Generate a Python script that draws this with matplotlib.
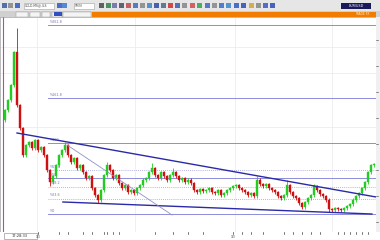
import matplotlib.pyplot as plt
from matplotlib.patches import Rectangle

# ===================
# DATA
# ===================
# closing prices, one per bar (open = previous close)
first_open = 1.2994
closes = [
    1.3004, 1.3014, 1.3029, 1.3062, 1.3009, 1.2986, 1.2959, 1.2969, 1.2972, 1.2966,
    1.2974, 1.2964, 1.2967, 1.2959, 1.2944, 1.2932, 1.2938, 1.2949, 1.2959, 1.2964,
    1.2969, 1.2959, 1.2952, 1.2956, 1.2946, 1.2949, 1.2942, 1.2936, 1.2938, 1.2926,
    1.2919, 1.2914, 1.2924, 1.2939, 1.2949, 1.2944, 1.2936, 1.2939, 1.2931, 1.2926,
    1.2929, 1.2922, 1.2924, 1.2921, 1.2926, 1.2929, 1.2934, 1.2936, 1.2942, 1.2946,
    1.2939, 1.2936, 1.2942, 1.2938, 1.2934, 1.2939, 1.2942, 1.2938, 1.2934, 1.2936,
    1.2932, 1.2934, 1.2931, 1.2924, 1.2922, 1.2925, 1.2923, 1.2924, 1.2926, 1.2922,
    1.2921, 1.2924, 1.2919, 1.2921, 1.2924, 1.2926, 1.2928, 1.2929, 1.2926, 1.2924,
    1.2922, 1.2919, 1.2921, 1.2918, 1.2934, 1.2930, 1.2928, 1.2930, 1.2926, 1.2924,
    1.2922, 1.2918, 1.2916, 1.2919, 1.2929, 1.2922, 1.2918, 1.2916, 1.2911, 1.2907,
    1.2912, 1.2916, 1.2919, 1.2928, 1.2924, 1.2920, 1.2918, 1.2914, 1.2905, 1.2904,
    1.2906, 1.2905, 1.2904, 1.2906, 1.2908, 1.2910, 1.2914, 1.2918, 1.2921, 1.2926,
    1.2932, 1.2942, 1.2949, 1.2950,
]
# bars whose wicks reach past the body
high_wicks = {4: 1.3086, 20: 1.2972, 34: 1.2952, 49: 1.2951, 56: 1.2946,
              84: 1.2938, 94: 1.2934, 103: 1.2930}
low_wicks = {15: 1.2928, 31: 1.2911, 108: 1.2902}

fib_levels = [1.2900, 1.2915, 1.2927, 1.2936, 1.2944, 1.2971, 1.3016, 1.3089]
fib_labels = ["%0", "%23.6", "%38.2", "%50", "%61.8", "%100", "%161.8", "%261.8"]
fib_dotted = [False, True, True, False, True, False, False, False]

# trend lines: (bar, price) endpoints
upper_trend = [(4.0, 1.2981), (123.7, 1.2917)]
lower_trend = [(19.3, 1.2912), (122.3, 1.2900)]
thin_line = [(20.7, 1.2969), (55.7, 1.2899)]

x_ticks = [11, 18, 21, 26, 29, 33, 34, 36, 38, 50, 56, 61, 66, 76, 79, 82, 86, 93, 96,
           99, 102, 105, 111, 113, 115, 117, 119, 121]
x_tick_labels = {11: "1/3", 76: "1/3"}

# ===================
# FIGURE
# ===================
W, H = 380, 240
fig = plt.figure(figsize=(3.8, 2.4), dpi=100)
fig.patch.set_facecolor("#d8d8d8")

# ---- toolbar
tb = fig.add_axes([0, 229 / H, 1, 11 / H])
tb.set_xlim(0, W)
tb.set_ylim(11, 0)
tb.axis("off")
tb.add_patch(Rectangle((0, 0), W, 11, facecolor="#e6e6e6", edgecolor="none"))
icons = [(2, "#3050a0"), (8, "#808080"), (15, "#2050c0"), (57, "#2050c0"),
         (62, "#3070d0"), (99, "#404040"), (106, "#208040"), (112, "#6060a0"),
         (119, "#404060"), (126, "#c04040"), (133, "#3060c0"), (140, "#808080"),
         (147, "#3080c0"), (154, "#2040a0"), (161, "#406080"), (168, "#d02020"),
         (175, "#3050b0"), (182, "#808080"), (190, "#d04040"), (197, "#20a040"),
         (205, "#3060c0"), (212, "#808080"), (219, "#3060d0"), (226, "#3080d0"),
         (234, "#2050c0"), (241, "#2040b0"), (249, "#d0a020"), (256, "#808080"),
         (263, "#3050c0"), (270, "#2040b0")]
for ix, col in icons:
    tb.add_patch(Rectangle((ix, 3), 4.5, 5, facecolor=col, edgecolor="none", alpha=0.8))
tb.add_patch(Rectangle((24, 2.5), 30, 6, facecolor="white", edgecolor="#a0a0a0", lw=0.4))
tb.text(25, 5.6, "GOLD.MS@.ILS", fontsize=2.2, va="center", color="#404040")
tb.add_patch(Rectangle((74, 2.5), 20, 6, facecolor="white", edgecolor="#a0a0a0", lw=0.4))
tb.text(75, 5.6, "5MIN", fontsize=2.2, va="center", color="#404040")
tb.add_patch(Rectangle((341, 2.5), 30, 6, facecolor="#1a1a5a", edgecolor="none"))
tb.text(356, 5.6, "EUR/USD", fontsize=2.4, va="center", ha="center", color="white")

# ---- tab bar
tab = fig.add_axes([0, 223 / H, 1, 6 / H])
tab.set_xlim(0, W)
tab.set_ylim(6, 0)
tab.axis("off")
tab.add_patch(Rectangle((0, 0), W, 6, facecolor="#d0d0d0", edgecolor="none"))
for tx, tw in [(16, 12), (30, 10), (42, 8), (52, 10), (63, 28)]:
    tab.add_patch(Rectangle((tx, 0.8), tw, 5, facecolor="#f4f4f4", edgecolor="#909090", lw=0.3))
tab.add_patch(Rectangle((54, 1.2), 8, 4, facecolor="#3050c0", edgecolor="none"))
tab.add_patch(Rectangle((92, 0.8), 284, 5.2, facecolor="#f07d00", edgecolor="none"))
tab.text(362, 3.4, "TRADE FX", fontsize=2.2, va="center", ha="center", color="#fff0d0")

# ---- main chart
ax = fig.add_axes([0, 8 / H, 376 / W, 215 / H])
ax.set_facecolor("white")
ax.set_xlim(-5 / 3, 371 / 3)
ax.set_ylim(1.2882, 1.3097)
ax.set_xticks([])
ax.set_yticks([])
for s in ax.spines.values():
    s.set_color("#a0a0a0")
    s.set_linewidth(0.5)

# faint grid
for gx in [10.7, 43.3, 76.7, 109]:
    ax.axvline(gx, color="#ececec", lw=0.6, zorder=0)
for gy in [1.3067, 1.3041, 1.2987]:
    ax.axhline(gy, color="#ececec", lw=0.6, zorder=0)

# left purple marker line
ax.axvline(-0.67, color="#a050c0", lw=0.8, zorder=1)

# fibonacci levels
for lvl, lab, dotted in zip(fib_levels, fib_labels, fib_dotted):
    if dotted:
        ax.plot([14.5, 124], [lvl, lvl], color="#9a9ad8", lw=0.6, ls=(0, (1, 1.5)), zorder=1)
    else:
        ax.plot([14.5, 124], [lvl, lvl], color="#8c8cdc", lw=0.7, zorder=1)
    ax.text(15, lvl + 0.00015, lab, fontsize=2.4, color="#7070c0", va="bottom", zorder=2)

# candles
opens = [first_open] + closes[:-1]
for i, (o, c) in enumerate(zip(opens, closes)):
    col = "#22cc22" if c >= o else "#d01010"
    hi = high_wicks.get(i, max(o, c) + 0.00015)
    lo = low_wicks.get(i, min(o, c) - 0.00015)
    ax.vlines(i, lo, hi, color=col, lw=0.6, zorder=3)
    ax.add_patch(Rectangle((i - 0.3, min(o, c)), 0.6, max(abs(c - o), 0.00005),
                           facecolor=col, edgecolor=col, lw=0.3, zorder=4))

# trend lines
for pts, col, lw in [(upper_trend, "#2a2aa8", 1.0), (lower_trend, "#2a2aa8", 1.0),
                     (thin_line, "#9090c8", 0.6)]:
    xs, ys = zip(*pts)
    ax.plot(xs, ys, color=col, lw=lw, zorder=5)

# ---- right strip
rs = fig.add_axes([376 / W, 8 / H, 4 / W, 215 / H])
rs.set_xlim(0, 4)
rs.set_ylim(0, 215)
rs.axis("off")
rs.add_patch(Rectangle((0, 0), 4, 215, facecolor="#f0f0f0", edgecolor="none"))
for ty in range(10, 215, 26):
    rs.plot([0, 2], [ty, ty], color="#606060", lw=0.5)

# ---- bottom time axis
bx = fig.add_axes([0, 0, 1, 8 / H])
bx.set_xlim(-5 / 3, (W - 5) / 3)
bx.set_ylim(8, 0)
bx.axis("off")
bx.add_patch(Rectangle((-5 / 3, 0), W / 3, 8, facecolor="white", edgecolor="none"))
for t in x_ticks:
    bx.plot([t, t], [0, 2], color="#404040", lw=0.5)
    if t in x_tick_labels:
        bx.text(t, 5.5, x_tick_labels[t], fontsize=2.2, ha="center", va="center", color="#404040")
bx.add_patch(Rectangle((-0.5, 1), 11, 6, facecolor="white", edgecolor="#808080", lw=0.4))
bx.text(5, 4, "17:28:33", fontsize=2.6, ha="center", va="center", color="#303030")

fig.savefig("out.png", dpi=100)
